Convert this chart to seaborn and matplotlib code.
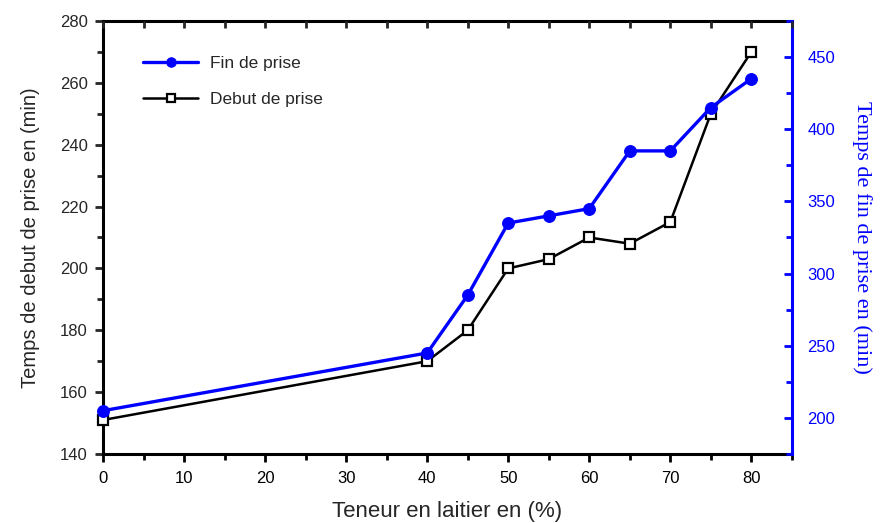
import matplotlib
matplotlib.use("Agg")
import matplotlib.pyplot as plt
from matplotlib.ticker import MultipleLocator
import seaborn as sns
import pandas as pd

# Slag content (%) and setting times (min)
teneur = [0, 40, 45, 50, 55, 60, 65, 70, 75, 80]
debut_prise = [151, 170, 180, 200, 203, 210, 208, 215, 250, 270]
fin_prise = [205, 245, 285, 335, 340, 345, 385, 385, 415, 435]

df = pd.DataFrame({"teneur": teneur, "debut": debut_prise, "fin": fin_prise})

sns.set_style("ticks")
plt.rcParams["font.family"] = ["Liberation Sans", "DejaVu Sans"]

BLUE = "#0000ff"

fig = plt.figure(figsize=(8.82, 5.23), dpi=100)
ax = fig.add_axes([0.1168, 0.1319, 0.781, 0.828])
ax2 = ax.twinx()

sns.lineplot(data=df, x="teneur", y="debut", ax=ax, color="black", lw=1.8,
             marker="s", markersize=7, markerfacecolor="white",
             markeredgecolor="black", markeredgewidth=1.6,
             label="Debut de prise", legend=False, clip_on=False, zorder=3)
sns.lineplot(data=df, x="teneur", y="fin", ax=ax2, color=BLUE, lw=2.4,
             marker="o", markersize=8.5, markerfacecolor=BLUE,
             markeredgecolor=BLUE, label="Fin de prise", legend=False,
             clip_on=False, zorder=3)

ax.set_xlim(0, 85)
ax.set_ylim(140, 280)
ax2.set_ylim(175, 475)

ax.xaxis.set_major_locator(MultipleLocator(10))
ax.xaxis.set_minor_locator(MultipleLocator(5))
ax.yaxis.set_major_locator(MultipleLocator(20))
ax.yaxis.set_minor_locator(MultipleLocator(10))
ax2.yaxis.set_major_locator(MultipleLocator(50))
ax2.yaxis.set_minor_locator(MultipleLocator(25))
ax.set_xticks([0, 10, 20, 30, 40, 50, 60, 70, 80])

for sp in ["left", "bottom", "top"]:
    ax.spines[sp].set_linewidth(2.2)
    ax.spines[sp].set_color("black")
ax.spines["right"].set_visible(False)
for sp in ["left", "bottom", "top"]:
    ax2.spines[sp].set_visible(False)
ax2.spines["right"].set_color(BLUE)
ax2.spines["right"].set_linewidth(2.2)

ax.tick_params(axis="x", which="both", direction="out", top=False,
               labelsize=12, colors="black", pad=6)
ax.tick_params(axis="x", which="major", length=6, width=2)
ax.tick_params(axis="x", which="minor", length=4, width=2)
ax.tick_params(axis="y", which="major", direction="out", length=6, width=2,
               labelsize=12, pad=5)
ax.tick_params(axis="y", which="minor", direction="out", length=4, width=2)

# top-edge ticks point into the plot
axt = ax.twiny()
axt.set_xlim(ax.get_xlim())
axt.xaxis.set_major_locator(MultipleLocator(5))
axt.tick_params(axis="x", which="major", direction="in", length=5, width=2,
                labeltop=False)
for sp in axt.spines.values():
    sp.set_visible(False)

ax2.tick_params(axis="y", which="major", direction="in", length=6, width=2,
                colors=BLUE, labelsize=12, pad=11)
ax2.tick_params(axis="y", which="minor", direction="in", length=4, width=2,
                colors=BLUE)

ax.set_xlabel("Teneur en laitier en (%)", fontsize=16, labelpad=11)
ax.set_ylabel("Temps de debut de prise en (min)", fontsize=14.5, labelpad=14)
ax2.set_ylabel("Temps de fin de prise en (min)", fontsize=16, color=BLUE,
               family=["Liberation Serif", "DejaVu Serif"], labelpad=12,
               rotation=270, va="bottom")

h1, l1 = ax.get_legend_handles_labels()
h2, l2 = ax2.get_legend_handles_labels()
ax2.legend(h2 + h1, l2 + l1, loc="upper left", bbox_to_anchor=(0.035, 0.955),
           frameon=False, fontsize=12.5, labelspacing=1.2, handlelength=3.2,
           handletextpad=0.7, markerscale=0.8)

fig.savefig("out.png", dpi=100)
